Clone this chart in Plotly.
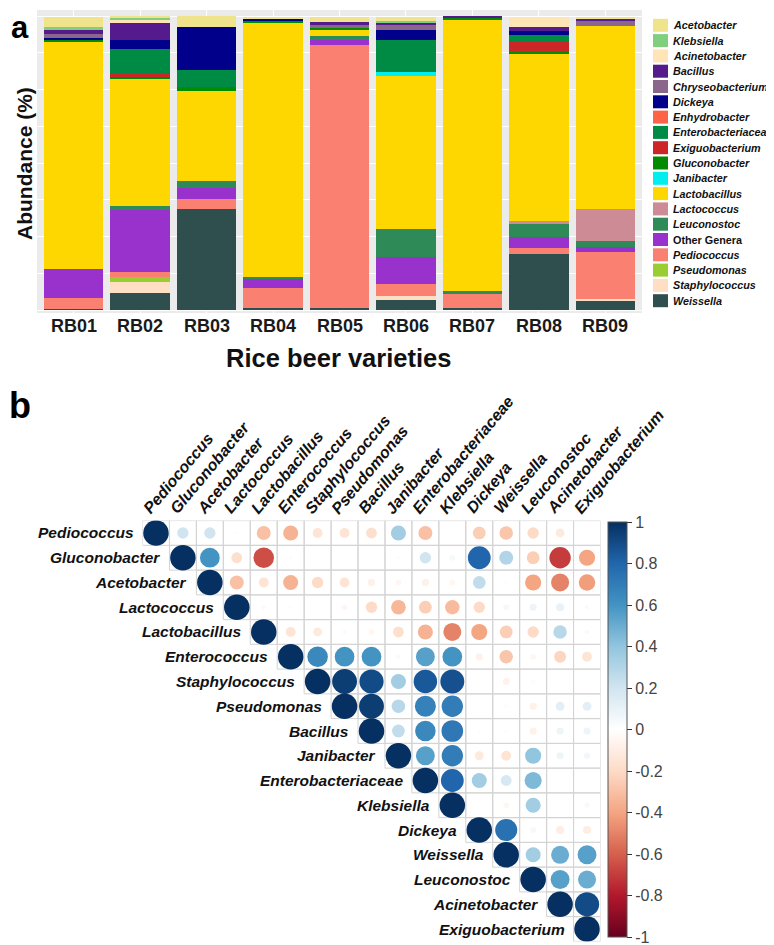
import plotly.graph_objects as go

W, H = 774, 945

# ---------------- Panel a data ----------------
varieties = ["RB01", "RB02", "RB03", "RB04", "RB05", "RB06", "RB07", "RB08", "RB09"]

weissella          = [0.5, 5.9, 34.2, 0.8, 0.8, 3.3, 0.8, 19.2, 3.3]
staphylococcus     = [0.0, 3.7, 0.0, 0.0, 0.0, 1.5, 0.0, 0.0, 0.5]
pseudomonas        = [0.0, 1.6, 0.0, 0.0, 0.0, 0.0, 0.0, 0.0, 0.0]
pediococcus        = [3.7, 1.7, 3.6, 6.8, 89.2, 4.0, 4.8, 1.8, 15.9]
other_genera       = [9.6, 21.0, 3.7, 3.2, 2.0, 9.3, 0.0, 3.9, 1.7]
leuconostoc        = [0.0, 1.5, 2.5, 0.5, 1.1, 9.4, 0.7, 4.5, 2.0]
lactococcus        = [0.0, 0.0, 0.0, 0.0, 0.0, 0.0, 0.0, 0.9, 11.1]
lactobacillus      = [77.3, 43.1, 30.4, 86.2, 2.3, 52.2, 92.6, 56.9, 62.0]
janibacter         = [0.0, 0.0, 0.0, 0.0, 0.0, 1.1, 0.0, 0.0, 0.0]
gluconobacter      = [0.9, 0.8, 1.5, 0.7, 0.5, 0.0, 0.3, 0.6, 0.0]
exiguobacterium    = [0.0, 0.9, 0.0, 0.0, 0.0, 0.0, 0.0, 3.4, 0.0]
enterobacteriaceae = [0.0, 8.7, 5.6, 0.0, 0.0, 11.0, 0.0, 2.4, 0.0]
enhydrobacter      = [0.0, 0.0, 0.0, 0.0, 0.0, 0.0, 0.0, 0.0, 0.0]
dickeya            = [0.5, 2.9, 14.9, 0.8, 0.0, 3.4, 0.0, 1.4, 0.0]
chryseobacterium   = [1.4, 0.0, 0.0, 0.0, 0.9, 1.8, 0.0, 0.0, 1.7]
bacillus           = [1.5, 5.9, 0.0, 0.0, 1.1, 0.8, 0.9, 1.1, 0.8]
acinetobacter      = [0.0, 1.0, 0.0, 0.0, 0.0, 0.0, 0.0, 3.7, 0.0]
klebsiella         = [1.0, 0.5, 0.0, 0.0, 0.0, 0.5, 0.0, 0.0, 0.0]
acetobacter        = [3.4, 0.8, 3.6, 0.8, 1.9, 1.5, 0.0, 0.0, 0.8]

# legend order (top to bottom)
genera = ["Acetobacter", "Klebsiella", "Acinetobacter", "Bacillus", "Chryseobacterium",
          "Dickeya", "Enhydrobacter", "Enterobacteriaceae", "Exiguobacterium",
          "Gluconobacter", "Janibacter", "Lactobacillus", "Lactococcus", "Leuconostoc",
          "Other Genera", "Pediococcus", "Pseudomonas", "Staphylococcus", "Weissella"]
genus_values = [acetobacter, klebsiella, acinetobacter, bacillus, chryseobacterium,
                dickeya, enhydrobacter, enterobacteriaceae, exiguobacterium,
                gluconobacter, janibacter, lactobacillus, lactococcus, leuconostoc,
                other_genera, pediococcus, pseudomonas, staphylococcus, weissella]
genus_colors = ["#EFE48C", "#7FCF7F", "#FFE4B5", "#551A8B", "#8B668B",
                "#00008B", "#FF6347", "#008B45", "#CD2626",
                "#008B00", "#00EEEE", "#FFD700", "#CD8C95", "#2E8B57",
                "#9932CC", "#FA8072", "#9ACD32", "#FFDFC4", "#2F4F4F"]

# ---------------- Panel b data ----------------
taxa = ["Pediococcus", "Gluconobacter", "Acetobacter", "Lactococcus", "Lactobacillus",
        "Enterococcus", "Staphylococcus", "Pseudomonas", "Bacillus", "Janibacter",
        "Enterobacteriaceae", "Klebsiella", "Dickeya", "Weissella", "Leuconostoc",
        "Acinetobacter", "Exiguobacterium"]

# upper-triangle rows, starting at the diagonal
r_pediococcus        = [1, 0.2, 0.2, 0.02, -0.3, -0.35, -0.15, -0.15, -0.18, 0.35, -0.3, 0, -0.25, -0.28, -0.2, -0.12, 0]
r_gluconobacter      = [1, 0.6, -0.18, -0.65, -0.02, 0.01, 0, 0, 0.02, 0.2, 0.05, 0.8, 0.3, -0.25, -0.7, -0.4]
r_acetobacter        = [1, -0.3, -0.15, -0.35, -0.2, -0.15, -0.08, -0.05, -0.08, -0.05, 0.25, 0.02, -0.4, -0.5, -0.42]
r_lactococcus        = [1, 0.03, -0.02, 0, -0.05, -0.2, -0.33, -0.25, -0.32, -0.2, 0.05, 0.08, 0.1, 0.03]
r_lactobacillus      = [1, -0.15, -0.12, -0.03, -0.05, -0.18, -0.35, -0.5, -0.4, -0.25, -0.2, 0.28, 0.03]
r_enterococcus       = [1, 0.65, 0.6, 0.6, 0.03, 0.55, 0.6, -0.08, -0.28, -0.05, -0.22, -0.15]
r_staphylococcus     = [1, 0.95, 0.9, 0.35, 0.85, 0.88, 0, -0.07, -0.02, 0, 0]
r_pseudomonas        = [1, 0.95, 0.28, 0.68, 0.7, 0, 0.02, -0.08, 0.12, 0.12]
r_bacillus           = [1, 0.25, 0.65, 0.72, 0.02, 0.02, -0.08, 0.08, 0.08]
r_janibacter         = [1, 0.55, 0.7, -0.12, -0.15, 0.4, 0.08, 0.06]
r_enterobacteriaceae = [1, 0.8, 0.35, 0.18, 0.45, 0, 0]
r_klebsiella         = [1, 0, -0.05, 0.35, 0, 0.04]
r_dickeya            = [1, 0.75, 0.05, -0.1, -0.1]
r_weissella          = [1, 0.35, 0.5, 0.55]
r_leuconostoc        = [1, 0.55, 0.5]
r_acinetobacter      = [1, 0.9]
r_exiguobacterium    = [1]

corr_rows = [r_pediococcus, r_gluconobacter, r_acetobacter, r_lactococcus, r_lactobacillus,
             r_enterococcus, r_staphylococcus, r_pseudomonas, r_bacillus, r_janibacter,
             r_enterobacteriaceae, r_klebsiella, r_dickeya, r_weissella, r_leuconostoc,
             r_acinetobacter, r_exiguobacterium]

cbar_ticks = [1, 0.8, 0.6, 0.4, 0.2, 0, -0.2, -0.4, -0.6, -0.8, -1]
cbar_text = ["1", "0.8", "0.6", "0.4", "0.2", "0", "-0.2", "-0.4", "-0.6", "-0.8", "-1"]

FONT = "Liberation Sans"
fig = go.Figure()

# ---- panel a bars (stack bottom -> top = reverse legend order)
for name, vals, col in reversed(list(zip(genera, genus_values, genus_colors))):
    fig.add_trace(go.Bar(x=varieties, y=vals, name=name, marker=dict(color=col, line=dict(width=0)),
                         width=0.9, showlegend=False, xaxis="x", yaxis="y", hoverinfo="skip"))

# ---- panel b circles
n = len(taxa)
xs, ys, cs_vals, sizes = [], [], [], []
for i, row in enumerate(corr_rows):
    for k, r in enumerate(row):
        j = i + k
        xs.append(j + 1)
        ys.append(i + 1)
        cs_vals.append(r)
        sizes.append(25.5 * abs(r) ** 0.5)

rdbu = [[0.0, "#67001F"], [0.1, "#B2182B"], [0.2, "#D6604D"], [0.3, "#F4A582"], [0.4, "#FDDBC7"],
        [0.5, "#FFFFFF"], [0.6, "#D1E5F0"], [0.7, "#92C5DE"], [0.8, "#4393C3"], [0.9, "#2166AC"],
        [1.0, "#053061"]]

fig.add_trace(go.Scatter(
    x=xs, y=ys, mode="markers", xaxis="x2", yaxis="y2", hoverinfo="skip", showlegend=False,
    marker=dict(size=sizes, color=cs_vals, colorscale=rdbu, cmin=-1, cmax=1, line=dict(width=0),
                opacity=1, showscale=True,
                colorbar=dict(x=600 / W, xanchor="left", xpad=0, thickness=19,
                              y=1 - 721.5 / H, yanchor="middle", ypad=0,
                              lenmode="pixels", len=415,
                              outlinewidth=1, outlinecolor="#555555",
                              tickvals=cbar_ticks, ticktext=cbar_text,
                              ticks="outside", ticklen=5, tickcolor="#333333",
                              tickfont=dict(family=FONT, size=16, color="#444444")))))

shapes = []
annotations = []

# panel a grey background
shapes.append(dict(type="rect", xref="x domain", yref="y domain", x0=0, x1=1, y0=0, y1=1,
                   fillcolor="#EBEBEB", line=dict(width=0), layer="below"))

# panel a category labels
for v in varieties:
    annotations.append(dict(x=v, y=1 - 318 / H, xref="x", yref="paper", xanchor="center",
                            yanchor="middle", showarrow=False, text=f"<b>{v}</b>",
                            font=dict(family=FONT, size=18, color="#1A1A1A")))

# panel b cell grid
for i in range(n):
    for j in range(i, n):
        shapes.append(dict(type="rect", xref="x2", yref="y2", x0=j + 0.5, x1=j + 1.5,
                           y0=i + 0.5, y1=i + 1.5, line=dict(color="#D3D3D3", width=1),
                           fillcolor="rgba(0,0,0,0)", layer="below"))

# panel b row labels
for i, t in enumerate(taxa):
    annotations.append(dict(x=i + 0.5, y=i + 1, xref="x2", yref="y2", xanchor="right",
                            yanchor="middle", xshift=-7, showarrow=False,
                            text=f"<b><i>{t}</i></b>",
                            font=dict(family=FONT, size=15.5, color="#111111")))
# panel b column labels
for j, t in enumerate(taxa):
    annotations.append(dict(x=j + 1, y=0.5, xref="x2", yref="y2", xanchor="left",
                            yanchor="bottom", xshift=-19, yshift=1, showarrow=False,
                            textangle=-50, text=f"<b><i>{t}</i></b>",
                            font=dict(family=FONT, size=16, color="#111111")))

# panel a manual legend
for k, (name, col) in enumerate(zip(genera, genus_colors)):
    yc = 17.3 + 15.3 * k
    shapes.append(dict(type="rect", xref="paper", yref="paper",
                       x0=645 / W, x1=660 / W, y0=1 - (yc + 6.5) / H, y1=1 - (yc - 6.5) / H,
                       fillcolor=col, line=dict(width=0)))
    label = f"<b>{name}</b>" if name == "Other Genera" else f"<b><i>{name}</i></b>"
    annotations.append(dict(x=663 / W, y=1 - yc / H, xref="paper", yref="paper",
                            xanchor="left", yanchor="middle", showarrow=False, text=label,
                            font=dict(family=FONT, size=10.8, color="#111111")))

# titles / panel letters
annotations += [
    dict(x=17 / W, y=1 - 156 / H, xref="paper", yref="paper", text="<b>Abundance (%)</b>",
         textangle=-90, showarrow=False, xanchor="center", yanchor="middle",
         font=dict(family=FONT, size=21, color="#111111")),
    dict(x=330 / W, y=1 - 350 / H, xref="paper", yref="paper", text="<b>Rice beer varieties</b>",
         showarrow=False, xanchor="center", yanchor="middle",
         font=dict(family=FONT, size=25.5, color="#111111")),
    dict(x=12 / W, y=1.0, xref="paper", yref="paper", text="<b>a</b>",
         showarrow=False, xanchor="center", yanchor="top",
         font=dict(family=FONT, size=31, color="#000000")),
    dict(x=12 / W, y=1 - 397 / H, xref="paper", yref="paper", text="<b>b</b>",
         showarrow=False, xanchor="center", yanchor="middle",
         font=dict(family=FONT, size=36, color="#000000")),
]

fig.update_layout(
    width=W, height=H, autosize=False,
    margin=dict(l=0, r=0, t=0, b=0),
    paper_bgcolor="white", plot_bgcolor="white",
    barmode="stack", bargap=0.1,
    shapes=shapes, annotations=annotations,
    xaxis=dict(domain=[29 / W, 634 / W], anchor="y", type="category", range=[-0.55, 8.55],
               showgrid=True, gridcolor="white", gridwidth=1.1, ticks="", zeroline=False,
               showline=False, showticklabels=False),
    yaxis=dict(domain=[1 - 305 / H, 1 - 2 / H], anchor="x", range=[-1.02, 102.04],
               showticklabels=False, ticks="", showgrid=True, gridcolor="white", gridwidth=1.1,
               tick0=0, dtick=25, zeroline=False, showline=False,
               minor=dict(dtick=12.5, tick0=0, showgrid=True, gridcolor="white", gridwidth=0.5)),
    xaxis2=dict(domain=[134.5 / W, 592.5 / W], anchor="y2", range=[0.5, n + 0.5], visible=False),
    yaxis2=dict(domain=[1 - 933.4 / H, 1 - 512.6 / H], anchor="x2", range=[n + 0.5, 0.5], visible=False),
)

fig.write_html("out.html")
